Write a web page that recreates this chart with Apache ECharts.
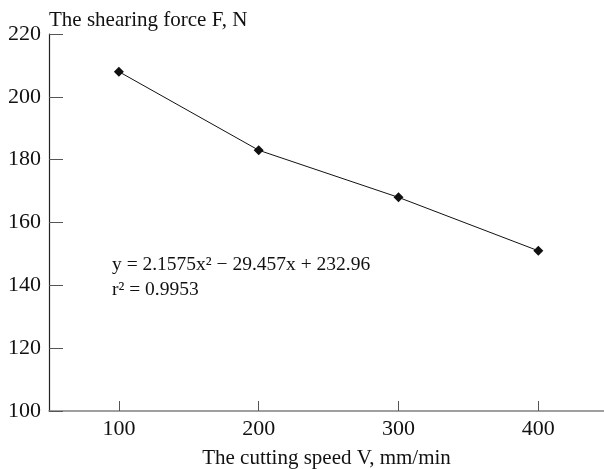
<!DOCTYPE html>
<html>
<head>
<meta charset="utf-8">
<script src="https://cdn.jsdelivr.net/npm/echarts@6/dist/echarts.min.js"></script>
<style>
  html, body { margin: 0; padding: 0; background: #fff; }
  #chart { width: 604px; height: 469px; }
</style>
</head>
<body>
<div id="chart"></div>
<script>
const speeds = [100, 200, 300, 400];
const forces = [208, 183, 168, 151];
const yTicks = [100, 120, 140, 160, 180, 200, 220];
const fitLines = ["y = 2.1575x\u00B2 \u2212 29.457x + 232.96", "r\u00B2 = 0.9953"];

const chart = echarts.init(document.getElementById("chart"));
const font = "'Liberation Serif', 'Times New Roman', serif";

const option = {
  animation: false,
  grid: { left: 49, right: 0, top: 34, bottom: 58, outerBoundsMode: "none" },
  xAxis: {
    type: "value",
    min: 50,
    max: 447,
    name: "The cutting speed V, mm/min",
    nameLocation: "middle",
    nameGap: 37,
    nameTextStyle: { color: "#111", fontSize: 21, fontFamily: font },
    axisLine: { lineStyle: { color: "#808080", width: 1.5 } },
    axisTick: {
      inside: true,
      length: 10,
      customValues: speeds,
      lineStyle: { color: "#555" }
    },
    axisLabel: {
      customValues: speeds,
      color: "#111",
      fontSize: 22,
      fontFamily: font,
      margin: 7
    },
    splitLine: { show: false }
  },
  yAxis: {
    type: "value",
    min: 100,
    max: 220,
    interval: 20,
    name: "The shearing force F, N",
    nameLocation: "end",
    nameGap: 3,
    nameTextStyle: {
      color: "#111",
      fontSize: 21,
      fontFamily: font,
      align: "left"
    },
    axisLine: { show: true, lineStyle: { color: "#222", width: 1.2 } },
    axisTick: { inside: true, length: 14, lineStyle: { color: "#555" } },
    axisLabel: { color: "#111", fontSize: 22, fontFamily: font, margin: 8 },
    splitLine: { show: false }
  },
  graphic: [
    {
      type: "text",
      left: 112,
      top: 252,
      style: {
        text: fitLines.join("\n"),
        font: "19.5px " + font,
        lineHeight: 25,
        fill: "#111"
      }
    }
  ],
  series: [
    {
      type: "line",
      data: speeds.map((s, i) => [s, forces[i]]),
      symbol: "diamond",
      symbolSize: 10,
      lineStyle: { color: "#111", width: 1 },
      itemStyle: { color: "#111" }
    }
  ]
};

chart.setOption(option);
</script>
</body>
</html>
